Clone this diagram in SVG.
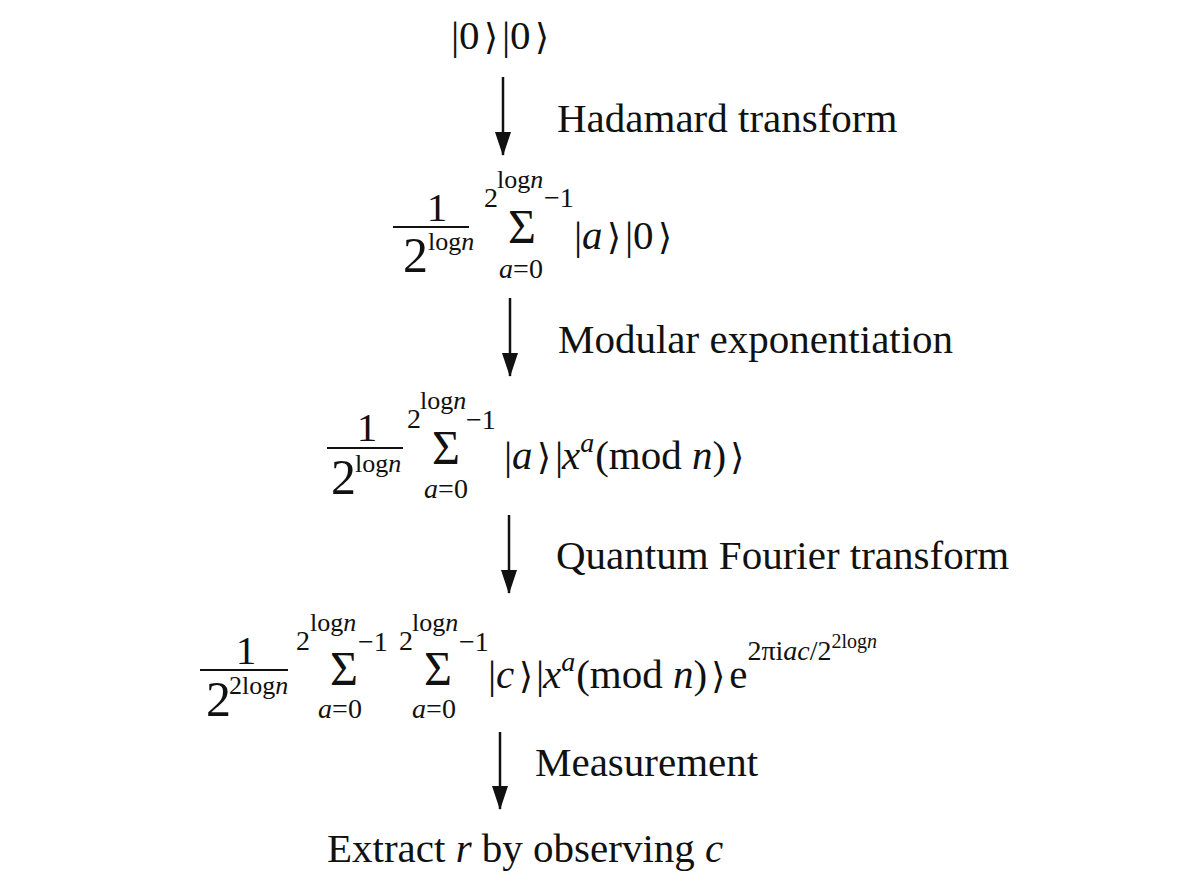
<svg xmlns="http://www.w3.org/2000/svg" width="1200" height="885" viewBox="0 0 1200 885">
<style>
text{font-family:"Liberation Serif","Times New Roman",serif;fill:#111}
.m{font-size:41px}
.s{font-size:28px}
.l{font-size:26px}
.sg{font-size:48px}
.d{font-size:50px}
.i{font-style:italic}
.k{font-family:"DejaVu Sans",sans-serif;font-size:36px}
.bar{stroke:#111;stroke-width:2}
.arr{stroke:#111;stroke-width:2.5;fill:none;marker-end:url(#ah)}
</style>
<defs>
<marker id="ah" viewBox="0 0 24 16" refX="23" refY="8" markerWidth="24" markerHeight="16" markerUnits="userSpaceOnUse" orient="auto">
<path d="M0,0 L24,8 L0,16 Z" fill="#111"/>
</marker>
</defs>
<rect width="1200" height="885" fill="#fff"/>
<g id="connectors">
<line class="arr" x1="503" y1="77" x2="503" y2="155"/>
<line class="arr" x1="510" y1="298" x2="510" y2="376"/>
<line class="arr" x1="509" y1="515" x2="509" y2="593"/>
<line class="arr" x1="500" y1="732" x2="500" y2="809"/>
</g>
<g id="labels">
<text class="m" x="557" y="132">Hadamard transform</text>
<text class="m" x="558" y="353">Modular exponentiation</text>
<text class="m" x="556" y="569">Quantum Fourier transform</text>
<text class="m" x="535" y="776">Measurement</text>
</g>
<g id="state0">
<text class="m" y="49"><tspan x="451">|</tspan><tspan x="459">0</tspan><tspan class="k" x="484">⟩</tspan><tspan x="502">|</tspan><tspan x="510">0</tspan><tspan class="k" x="535">⟩</tspan></text>
</g>
<g id="state1">
<text class="m" x="437" y="221" text-anchor="middle">1</text>
<line class="bar" x1="393" y1="227" x2="469" y2="227"/>
<text class="d" x="403" y="272">2</text>
<text class="l" x="428" y="250">log<tspan class="i">n</tspan></text>
<text class="s" x="484" y="207">2</text>
<text class="l" x="497" y="188">log<tspan class="i">n</tspan></text>
<text class="s" x="544" y="207">−1</text>
<text class="sg" x="522" y="243" text-anchor="middle">Σ</text>
<text class="s" x="521" y="278" text-anchor="middle"><tspan class="i">a</tspan>=0</text>
<text class="m" y="249"><tspan x="574">|</tspan><tspan class="i" x="582">a</tspan><tspan class="k" x="607">⟩</tspan><tspan x="625">|</tspan><tspan x="633">0</tspan><tspan class="k" x="658">⟩</tspan></text>
</g>
<g id="state2">
<text class="m" x="367" y="441" text-anchor="middle">1</text>
<line class="bar" x1="327" y1="448" x2="403" y2="448"/>
<text class="d" x="331" y="494">2</text>
<text class="l" x="355" y="472">log<tspan class="i">n</tspan></text>
<text class="s" x="407" y="428">2</text>
<text class="l" x="420" y="409">log<tspan class="i">n</tspan></text>
<text class="s" x="466" y="429">−1</text>
<text class="sg" x="446" y="464" text-anchor="middle">Σ</text>
<text class="s" x="446" y="498" text-anchor="middle"><tspan class="i">a</tspan>=0</text>
<text class="m" y="469"><tspan x="504">|</tspan><tspan class="i" x="512">a</tspan><tspan class="k" x="537">⟩</tspan><tspan x="555">|</tspan><tspan class="i" x="562">x</tspan><tspan class="s i" dy="-17">a</tspan><tspan dy="17" dx="1">(mod </tspan><tspan class="i">n</tspan><tspan>)</tspan><tspan class="k" dx="4">⟩</tspan></text>
</g>
<g id="state3">
<text class="m" x="246" y="664" text-anchor="middle">1</text>
<line class="bar" x1="200" y1="670" x2="288" y2="670"/>
<text class="d" x="206" y="716">2</text>
<text class="l" x="229" y="694">2log<tspan class="i">n</tspan></text>
<text class="s" x="296" y="650">2</text>
<text class="l" x="310" y="631">log<tspan class="i">n</tspan></text>
<text class="s" x="358" y="651">−1</text>
<text class="sg" x="344" y="685" text-anchor="middle">Σ</text>
<text class="s" x="340" y="718" text-anchor="middle"><tspan class="i">a</tspan>=0</text>
<text class="s" x="399" y="650">2</text>
<text class="l" x="412" y="631">log<tspan class="i">n</tspan></text>
<text class="s" x="459" y="651">−1</text>
<text class="sg" x="438" y="685" text-anchor="middle">Σ</text>
<text class="s" x="434" y="718" text-anchor="middle"><tspan class="i">a</tspan>=0</text>
<text class="m" y="688"><tspan x="488">|</tspan><tspan class="i" x="496">c</tspan><tspan class="k" x="519">⟩</tspan><tspan x="536">|</tspan><tspan class="i" x="543">x</tspan><tspan class="s i" dy="-17">a</tspan><tspan dy="17" dx="1">(mod </tspan><tspan class="i">n</tspan><tspan>)</tspan><tspan class="k" dx="4">⟩</tspan><tspan dx="4">e</tspan><tspan class="s" dy="-28">2πi<tspan class="i">ac</tspan>/2<tspan font-size="20" dy="-12">2log<tspan class="i">n</tspan></tspan></tspan></text>
</g>
<g id="result">
<text class="m" x="327" y="862">Extract <tspan class="i">r</tspan> by observing <tspan class="i">c</tspan></text>
</g>
</svg>
